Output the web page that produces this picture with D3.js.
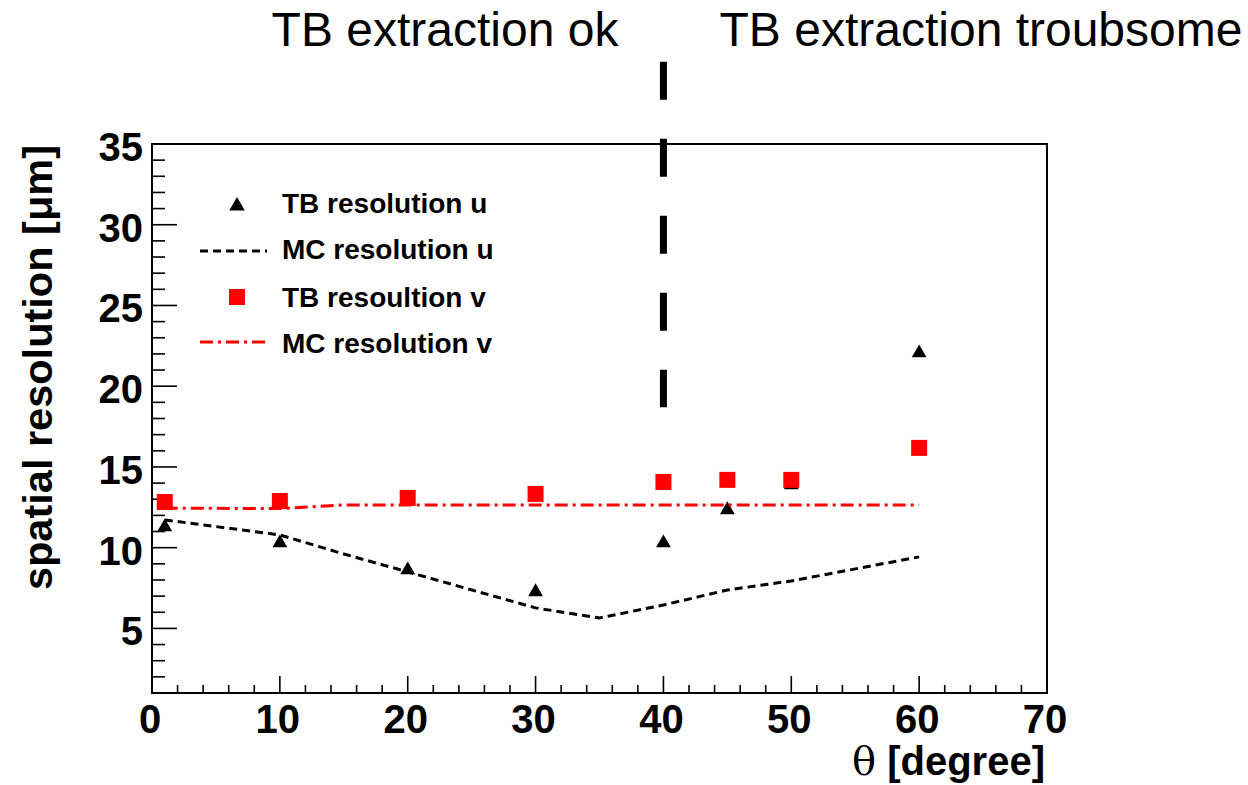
<!DOCTYPE html>
<html><head><meta charset="utf-8">
<script src="https://cdn.jsdelivr.net/npm/d3@7"></script>
<style>body{margin:0;background:#fff}svg{display:block}</style>
</head><body>
<svg id="c" width="1248" height="785"></svg>
<script>
// ---- data ----
const tbAngles = [1, 10, 20, 30, 40, 45, 50, 60];
const tbResU = [11.28, 10.29, 8.62, 7.26, 10.29, 12.34, 13.89, 22.06];
const tbResV = [12.83, 12.89, 13.08, 13.33, 14.07, 14.20, 14.20, 16.18];
const mcAngles = [1, 10, 15, 20, 30, 35, 40, 45, 50, 60];
const mcResU = [11.72, 10.79, 9.61, 8.50, 6.27, 5.65, 6.45, 7.38, 7.94, 9.43];
const mcResV = [12.45, 12.42, 12.65, 12.65, 12.65, 12.65, 12.65, 12.65, 12.65, 12.65];
const xTicks = [0, 10, 20, 30, 40, 50, 60, 70];
const yTicks = [5, 10, 15, 20, 25, 30, 35];
const xDomain = [0, 70];
const yDomain = [1, 35];
const dividerAngle = 40;
const dividerRange = [40.1, 18.7];
const legendLabels = ["TB resolution u", "MC resolution u", "TB resoultion v", "MC resolution v"];
const regionLabels = ["TB extraction ok", "TB extraction troubsome"];

// ---- layout ----
const L = 152, R = 1047, T = 144, B = 693;
const svg = d3.select("#c");
const x = d3.scaleLinear().domain(xDomain).range([L, R]);
const y = d3.scaleLinear().domain(yDomain).range([B, T]);
const bold = "'Liberation Sans', Arial, Helvetica, sans-serif";

// frame
svg.append("rect").attr("x", L).attr("y", T).attr("width", R - L).attr("height", B - T)
  .attr("fill", "none").attr("stroke", "#000").attr("stroke-width", 2);

// x ticks
const xMinor = d3.range(xDomain[0], xDomain[1] + 0.001, 2);
svg.append("g").selectAll("line").data(xMinor).join("line")
  .attr("x1", d => x(d)).attr("x2", d => x(d))
  .attr("y1", B).attr("y2", d => B - (d % 10 === 0 ? 17 : 8))
  .attr("stroke", "#000").attr("stroke-width", 1.6);
svg.append("g").selectAll("text").data(xTicks).join("text")
  .attr("x", d => x(d) - 2).attr("y", 733)
  .attr("text-anchor", "middle").attr("font-family", bold).attr("font-weight", "bold")
  .attr("font-size", 40).text(d => d);

// y ticks
const yMinor = d3.range(2, yDomain[1] + 0.001, 1);
svg.append("g").selectAll("line").data(yMinor).join("line")
  .attr("x1", L).attr("x2", d => L + (d % 5 === 0 ? 25 : 13))
  .attr("y1", d => y(d)).attr("y2", d => y(d))
  .attr("stroke", "#000").attr("stroke-width", 1.6);
svg.append("g").selectAll("text").data(yTicks).join("text")
  .attr("x", 143).attr("y", d => y(d) + 17)
  .attr("text-anchor", "end").attr("font-family", bold).attr("font-weight", "bold")
  .attr("font-size", 40).text(d => d);

// axis titles
const xt = svg.append("text").attr("x", 1045).attr("y", 775).attr("text-anchor", "end")
  .attr("font-family", bold).attr("font-weight", "bold").attr("font-size", 40);
xt.append("tspan").attr("font-weight", "normal").attr("font-family", "'DejaVu Serif', serif").text("θ");
xt.append("tspan").text(" [degree]");
svg.append("text").attr("transform", "translate(52,145) rotate(-90)")
  .attr("text-anchor", "end").attr("font-family", bold).attr("font-weight", "bold")
  .attr("font-size", 41.5).text("spatial resolution [μm]");

// MC lines
const lineU = d3.line().x((d, i) => x(mcAngles[i])).y(d => y(d));
svg.append("path").attr("d", lineU(mcResU)).attr("fill", "none")
  .attr("stroke", "#000").attr("stroke-width", 3).attr("stroke-dasharray", "8,5");

// triangles TB u
const tri = d3.symbol().type(d3.symbolTriangle).size(95);
svg.append("g").selectAll("path").data(tbResU).join("path")
  .attr("d", tri).attr("transform", (d, i) => `translate(${x(tbAngles[i])},${y(d)})`)
  .attr("fill", "#000");

// squares TB v
svg.append("g").selectAll("rect").data(tbResV).join("rect")
  .attr("x", (d, i) => x(tbAngles[i]) - 8).attr("y", d => y(d) - 8)
  .attr("width", 16).attr("height", 16).attr("fill", "#ff0000");

svg.append("path").attr("d", lineU(mcResV)).attr("fill", "none")
  .attr("stroke", "#ff0000").attr("stroke-width", 3).attr("stroke-dasharray", "13,5,3,5");

// divider
svg.append("line").attr("x1", x(dividerAngle)).attr("x2", x(dividerAngle))
  .attr("y1", y(dividerRange[0])).attr("y2", y(dividerRange[1]))
  .attr("stroke", "#000").attr("stroke-width", 7).attr("stroke-dasharray", "38,39");

// region labels
svg.append("text").attr("x", 445).attr("y", 46).attr("text-anchor", "middle")
  .attr("font-family", bold).attr("font-size", 48).text(regionLabels[0]);
svg.append("text").attr("x", 981).attr("y", 46).attr("text-anchor", "middle")
  .attr("font-family", bold).attr("font-size", 48).text(regionLabels[1]);

// legend
const lg = svg.append("g");
const rowsY = [213, 259, 307, 353];
lg.selectAll("text").data(legendLabels).join("text")
  .attr("x", 282).attr("y", (d, i) => rowsY[i])
  .attr("font-family", bold).attr("font-weight", "bold").attr("font-size", 28).text(d => d);
lg.append("path").attr("d", d3.symbol().type(d3.symbolTriangle).size(105))
  .attr("transform", `translate(237,${rowsY[0] - 7})`).attr("fill", "#000");
lg.append("line").attr("x1", 200).attr("x2", 267).attr("y1", rowsY[1] - 8).attr("y2", rowsY[1] - 8)
  .attr("stroke", "#000").attr("stroke-width", 3).attr("stroke-dasharray", "8,5");
lg.append("rect").attr("x", 229).attr("y", rowsY[2] - 18).attr("width", 16).attr("height", 16).attr("fill", "#ff0000");
lg.append("line").attr("x1", 200).attr("x2", 267).attr("y1", rowsY[3] - 11).attr("y2", rowsY[3] - 11)
  .attr("stroke", "#ff0000").attr("stroke-width", 3).attr("stroke-dasharray", "13,5,3,5");
</script>
</body></html>
